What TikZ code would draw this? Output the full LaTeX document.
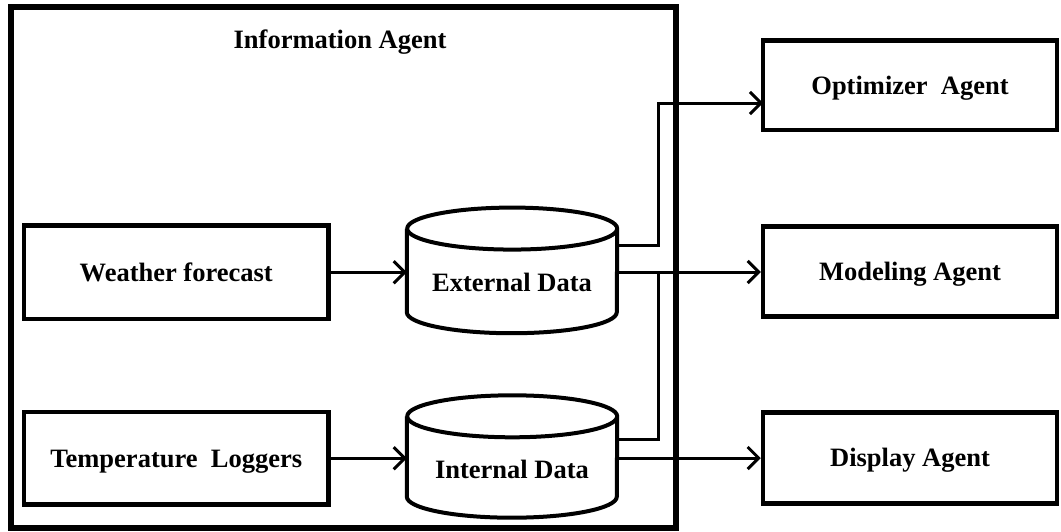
\documentclass[tikz,border=0pt]{standalone}
\usepackage{fontspec}
\setmainfont{Liberation Serif}
\usetikzlibrary{arrows.meta}
\begin{document}
\begin{tikzpicture}[x=1pt,y=-1pt,
  lbl/.style={font=\fontsize{26.5}{30}\selectfont\bfseries, inner sep=0pt, text height=17.5pt, text depth=0pt},
  agentbox/.style={draw, line width=4.5pt, rectangle, inner sep=0pt, text height=17.5pt, text depth=0pt, font=\fontsize{26.5}{30}\selectfont\bfseries},
  outerbox/.style={draw, line width=5.5pt},
  cyl/.style={draw, line width=4pt, line join=round},
  conn/.style={draw, line width=3pt},
  arr/.style={conn, -{Straight Barb[length=11pt, width=22pt, line width=3pt]}}
]
\useasboundingbox (0,0) rectangle (1061,531);
% outer Information Agent frame
\node[outerbox, minimum width=665pt, minimum height=521pt, inner sep=0pt] (info) at (343.5,267.5) {};
\node[lbl] (infot) at (340,40) {Information Agent};
% left boxes
\node[agentbox, minimum width=304.5pt, minimum height=93.5pt] (wf) at (176.25,272.25) {Weather forecast};
\node[agentbox, minimum width=304.5pt, minimum height=92.5pt] (tl) at (176.25,458.25) {Temperature\ \ Loggers};
% right boxes
\node[agentbox, minimum width=294pt, minimum height=89.5pt] (opt) at (910,85.25) {Optimizer\ \ Agent};
\node[agentbox, minimum width=294pt, minimum height=90pt] (mod) at (910,271.5) {Modeling Agent};
\node[agentbox, minimum width=294pt, minimum height=91pt] (disp) at (910,458) {Display Agent};
% cylinder bodies
\node[inner sep=0pt, minimum width=210pt, minimum height=83.25pt] (ext) at (512,270.4) {};
\node[inner sep=0pt, minimum width=210pt, minimum height=80pt] (int) at (512,456.5) {};
\foreach \c in {ext,int}{
  \draw[cyl] (\c.north west) -- (\c.south west)
    arc[start angle=180, end angle=360, x radius=105pt, y radius=21pt]
    -- (\c.north east)
    arc[start angle=0, end angle=360, x radius=105pt, y radius=21pt];
}
\node[lbl] (extt) at (512,283) {External Data};
\node[lbl] (intt) at (512,470) {Internal Data};
% connector points
\coordinate (e1) at (617,245);
\coordinate (e2) at (617,272);
\coordinate (i1) at (617,439);
\coordinate (i2) at (617,458);
\coordinate (optin) at (763,103);
\coordinate (jn) at (658,272);
% connectors
\draw[arr] (wf.east) -- (wf.east -| ext.west);
\draw[arr] (tl.east) -- (tl.east -| int.west);
\draw[arr] (e1) -- ++(41,0) |- (optin);
\draw[arr] (e2) -- (e2 -| mod.west);
\draw[conn] (i1) -| (jn);
\draw[arr] (i2) -- (i2 -| disp.west);
\end{tikzpicture}
\end{document}
